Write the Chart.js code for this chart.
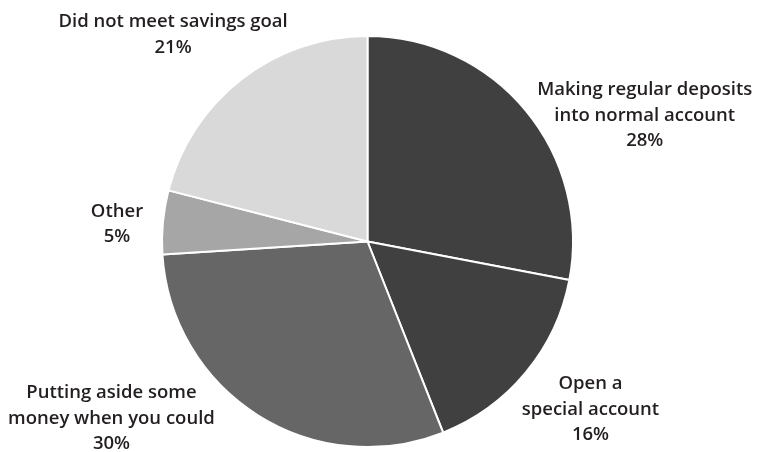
<!DOCTYPE html>
<html>
<head>
<meta charset="utf-8">
<script src="https://cdn.jsdelivr.net/npm/chart.js@4/dist/chart.umd.min.js"></script>
<style>
  html, body { margin: 0; padding: 0; background: #fff; }
  #wrap { width: 757px; height: 452px; }
</style>
</head>
<body>
<div id="wrap"><canvas id="chart" width="757" height="452"></canvas></div>
<script>
// data
const categories = [
  ['Making regular deposits', 'into normal account'],
  ['Open a', 'special account'],
  ['Putting aside some', 'money when you could'],
  ['Other'],
  ['Did not meet savings goal']
];
const shares = [28, 16, 30, 5, 21];
const sliceColors = ['#404041', '#404041', '#666666', '#a6a6a6', '#d9d9d9'];

// where each label block sits, in pie radii from the centre
const labelAnchor = [
  [1.349, -0.612],
  [1.085, 0.817],
  [-1.246, 0.861],
  [-1.219, -0.085],
  [-0.946, -1.005]
];

const FONT = '600 18.5px "Open Sans", sans-serif';
const LINE_H = 25.5;

// labels outside the pie, no leader lines
const outsideLabels = {
  id: 'outsideLabels',
  afterDraw(chart) {
    const ctx = chart.ctx;
    const arcs = chart.getDatasetMeta(0).data;
    if (!arcs.length) return;
    const cx = arcs[0].x, cy = arcs[0].y, r = arcs[0].outerRadius;
    ctx.save();
    ctx.font = FONT;
    ctx.fillStyle = '#231f20';
    ctx.textAlign = 'center';
    ctx.textBaseline = 'middle';
    categories.forEach((lines, i) => {
      const all = lines.concat([shares[i] + '%']);
      const x = cx + labelAnchor[i][0] * r;
      const y0 = cy + labelAnchor[i][1] * r - (all.length - 1) * LINE_H / 2;
      all.forEach((t, j) => ctx.fillText(t, x, y0 + j * LINE_H));
    });
    ctx.restore();
  }
};

new Chart(document.getElementById('chart'), {
  type: 'pie',
  data: {
    labels: categories.map(c => c.join(' ')),
    datasets: [{
      data: shares,
      backgroundColor: sliceColors,
      borderColor: '#ffffff',
      borderWidth: 2
    }]
  },
  options: {
    responsive: false,
    animation: false,
    layout: { padding: { top: 35, bottom: 4, left: 0, right: 22 } },
    plugins: {
      legend: { display: false },
      tooltip: { enabled: false }
    }
  },
  plugins: [outsideLabels]
});
</script>
</body>
</html>
